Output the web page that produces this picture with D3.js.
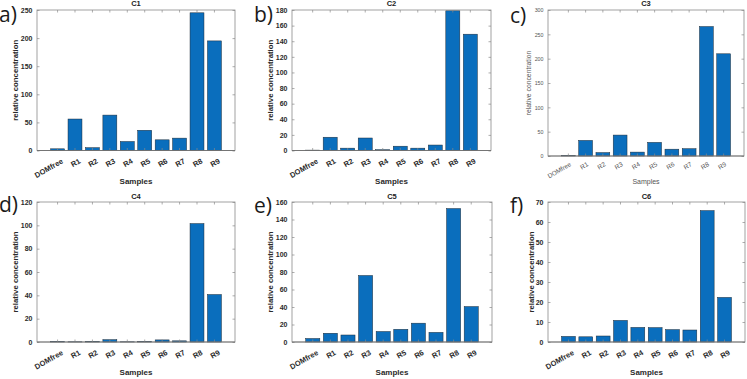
<!DOCTYPE html>
<html>
<head>
<meta charset="utf-8">
<script src="https://cdn.jsdelivr.net/npm/d3@7"></script>
<style>
  html, body { margin: 0; padding: 0; background: #fff; }
  svg { display: block; }
</style>
</head>
<body>
<svg id="chart" width="747" height="379"></svg>
<script>
// ---- data ----
const categories = ["DOMfree", "R1", "R2", "R3", "R4", "R5", "R6", "R7", "R8", "R9"];
const titles = ["C1", "C2", "C3", "C4", "C5", "C6"];
const panelLetters = ["a)", "b)", "c)", "d)", "e)", "f)"];
const c1Values = [3, 56, 5, 63, 16, 36, 19, 22, 245, 195];
const c2Values = [0.5, 17, 3, 16, 1, 5.5, 3, 7, 179, 149];
const c3Values = [1, 32, 7, 43, 8, 28, 14, 15, 266, 210];
const c4Values = [0.5, 0.2, 0.6, 2, 0.2, 0.5, 1.8, 1, 101.5, 40.7];
const c5Values = [4, 10, 8, 76, 12, 14.5, 21.5, 11, 152.5, 40.5];
const c6Values = [2.8, 2.6, 3, 10.8, 7.3, 7.2, 6.2, 6, 65.7, 22.3];
const c1Ticks = [0, 50, 100, 150, 200, 250];
const c2Ticks = [0, 20, 40, 60, 80, 100, 120, 140, 160, 180];
const c3Ticks = [0, 50, 100, 150, 200, 250, 300];
const c4Ticks = [0, 20, 40, 60, 80, 100, 120];
const c5Ticks = [0, 20, 40, 60, 80, 100, 120, 140, 160];
const c6Ticks = [0, 10, 20, 30, 40, 50, 60, 70];
const yLabel = "relative concentration";
const xLabel = "Samples";

const seriesValues = [c1Values, c2Values, c3Values, c4Values, c5Values, c6Values];
const seriesTicks = [c1Ticks, c2Ticks, c3Ticks, c4Ticks, c5Ticks, c6Ticks];

// ---- layout ----
const layouts = [
  {x0: 37,  x1: 235, y0: 10,  y1: 150.5, letterX: -1,  letterY: 22,  ylabX: 15,  bold: true},
  {x0: 292, x1: 491, y0: 10,  y1: 150.5, letterX: 254, letterY: 22,  ylabX: 270, bold: true},
  {x0: 548, x1: 744, y0: 10,  y1: 156,   letterX: 510, letterY: 23,  ylabX: 528, bold: false},
  {x0: 37,  x1: 235, y0: 202, y1: 342,   letterX: -1,  letterY: 212, ylabX: 15,  bold: true},
  {x0: 292, x1: 492, y0: 202, y1: 342,   letterX: 254, letterY: 213, ylabX: 270, bold: true},
  {x0: 548, x1: 745, y0: 202, y1: 342,   letterX: 510, letterY: 213, ylabX: 531, bold: true}
];
const xLabelY = [184, 184, 184, 375, 375, 375];

const svg = d3.select("#chart");
const FONT = "'Liberation Sans', Arial, sans-serif";
const barColor = "#0a6ebd";
const axisColor = "#8a8a8a";

layouts.forEach((L, i) => {
  const vals = seriesValues[i];
  const ticks = seriesTicks[i];
  const g = svg.append("g");
  const x = d3.scaleBand().domain(categories).range([L.x0, L.x1])
    .paddingInner(0.2).paddingOuter(0.78);
  const y = d3.scaleLinear().domain([0, ticks[ticks.length - 1]]).range([L.y1, L.y0]);
  const weight = L.bold ? "bold" : "normal";
  const textColor = L.bold ? "#2a2a2a" : "#555";
  const tickFont = L.bold ? 7 : 5.3;
  const xtickFont = L.bold ? 7.5 : 6.4;

  // bars
  g.selectAll("rect.bar").data(vals).enter().append("rect")
    .attr("class", "bar")
    .attr("x", (d, j) => x(categories[j]))
    .attr("width", x.bandwidth())
    .attr("y", d => y(d))
    .attr("height", d => y(0) - y(d))
    .attr("fill", barColor)
    .attr("stroke", "#1d2a36")
    .attr("stroke-width", 0.5);

  // axes
  const left = g.append("g").attr("transform", `translate(${L.x0},0)`)
    .call(d3.axisLeft(y).tickValues(ticks).tickSize(-2.5).tickPadding(4.5));
  left.selectAll("text").attr("font-family", FONT).attr("font-size", tickFont)
    .attr("font-weight", weight).attr("fill", textColor);
  const right = g.append("g").attr("transform", `translate(${L.x1},0)`)
    .call(d3.axisRight(y).tickValues(ticks).tickSize(-2.5).tickFormat(""));
  const bottom = g.append("g").attr("transform", `translate(0,${L.y1})`)
    .call(d3.axisBottom(x).tickSize(-2.5).tickFormat(""));
  const top = g.append("g").attr("transform", `translate(0,${L.y0})`)
    .call(d3.axisTop(x).tickSize(-2.5).tickFormat(""));
  [left, right, bottom, top].forEach(a => {
    a.select(".domain").remove();
    a.selectAll("line").attr("stroke", axisColor).attr("stroke-width", 0.7);
  });

  // box
  g.append("rect").attr("x", L.x0).attr("y", L.y0)
    .attr("width", L.x1 - L.x0).attr("height", L.y1 - L.y0)
    .attr("fill", "none").attr("stroke", axisColor).attr("stroke-width", 0.8);
  // x axis line darker
  g.append("line").attr("x1", L.x0).attr("x2", L.x1).attr("y1", L.y1).attr("y2", L.y1)
    .attr("stroke", "#6a6a6a").attr("stroke-width", 0.8);

  // rotated x tick labels
  const dxA = L.bold ? 4 : 1.5;
  const dyA = L.bold ? 8.5 : 6.5;
  g.selectAll("text.xt").data(categories).enter().append("text")
    .attr("class", "xt")
    .attr("transform", d => `translate(${x(d) + x.bandwidth() / 2 + dxA},${L.y1 + dyA}) rotate(-30)`)
    .attr("text-anchor", "end")
    .attr("dy", "0.55em")
    .attr("font-family", FONT).attr("font-size", xtickFont)
    .attr("font-weight", weight).attr("fill", textColor)
    .text(d => d);

  // title
  g.append("text")
    .attr("x", (L.x0 + L.x1) / 2).attr("y", L.y0 - (i < 3 ? 4 : 3))
    .attr("text-anchor", "middle")
    .attr("font-family", FONT).attr("font-size", 7.5).attr("font-weight", "bold")
    .attr("fill", "#222").text(titles[i]);

  // y label
  g.append("text")
    .attr("transform", `translate(${L.ylabX + 2.7},${(L.y0 + L.y1) / 2}) rotate(-90)`)
    .attr("text-anchor", "middle")
    .attr("font-family", FONT).attr("font-size", L.bold ? 7.8 : 6.8)
    .attr("font-weight", weight).attr("fill", textColor)
    .text(yLabel);

  // x label
  g.append("text")
    .attr("x", (L.x0 + L.x1) / 2).attr("y", xLabelY[i])
    .attr("text-anchor", "middle")
    .attr("font-family", FONT).attr("font-size", L.bold ? 8 : 7)
    .attr("font-weight", weight).attr("fill", textColor)
    .text(xLabel);

  // panel letter
  svg.append("text")
    .attr("x", L.letterX).attr("y", L.letterY)
    .attr("font-family", "'Open Sans', sans-serif").attr("font-size", 21)
    .attr("fill", "#1a1a1a").text(panelLetters[i]);
});
</script>
</body>
</html>
